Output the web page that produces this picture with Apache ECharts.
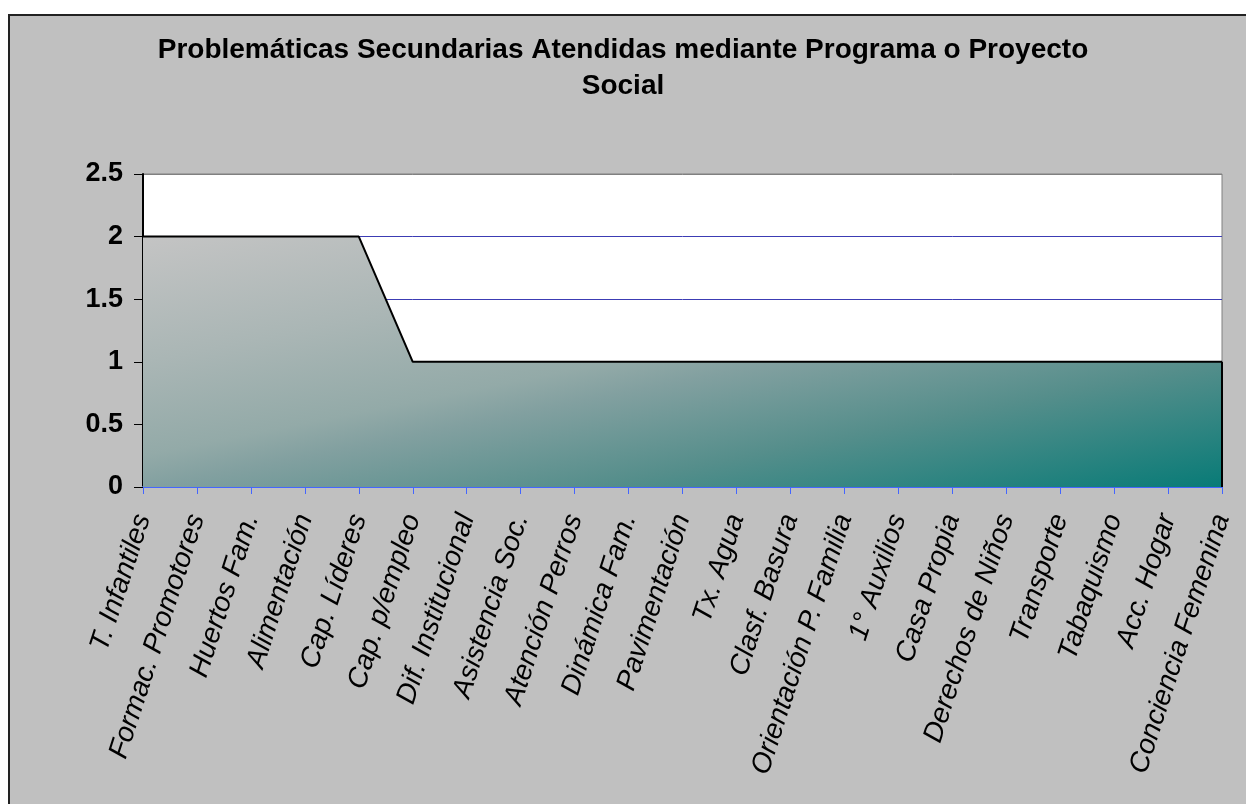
<!DOCTYPE html>
<html>
<head>
<meta charset="utf-8">
<script src="https://cdn.jsdelivr.net/npm/echarts@6/dist/echarts.min.js"></script>
<style>
  html, body { margin: 0; padding: 0; background: #fff; }
  #frame {
    position: absolute; left: 8px; top: 14px; width: 1250px; height: 800px;
    background: #c0c0c0; border-left: 2px solid #222; border-top: 2px solid #222;
  }
  #chart { position: absolute; left: 0; top: 0; width: 1246px; height: 804px; }
</style>
</head>
<body>
<div id="frame"></div>
<div id="chart"></div>
<script>
// categorias del eje X
var categories = ['T. Infantiles', 'Formac. Promotores', 'Huertos Fam.', 'Alimentación', 'Cap. Líderes',
  'Cap. p/empleo', 'Dif. Institucional', 'Asistencia Soc.', 'Atención Perros', 'Dinámica Fam.',
  'Pavimentación', 'Tx. Agua', 'Clasf. Basura', 'Orientación P. Familia', '1° Auxilios',
  'Casa Propia', 'Derechos de Niños', 'Transporte', 'Tabaquismo', 'Acc. Hogar', 'Conciencia Femenina']
// valores de la serie
var values = [2, 2, 2, 2, 2, 1, 1, 1, 1, 1, 1, 1, 1, 1, 1, 1, 1, 1, 1, 1, 1]
var yTicks = [0, 0.5, 1, 1.5, 2, 2.5]

var chart = echarts.init(document.getElementById('chart'))
var font = '"Liberation Sans", Arial, sans-serif'
var lastCat = categories[categories.length - 1]
var lastVal = values[values.length - 1]

chart.setOption({
  animation: false,
  backgroundColor: 'transparent',
  title: {
    text: 'Problemáticas Secundarias Atendidas mediante Programa o Proyecto\nSocial',
    left: 'center',
    top: 27,
    textStyle: {
      fontFamily: font,
      fontWeight: 'bold',
      fontSize: 28,
      lineHeight: 36,
      color: '#000'
    }
  },
  // area de trazado
  grid: {
    left: 143,
    right: 24,
    top: 174,
    bottom: 317,
    show: true,
    backgroundColor: '#fff',
    borderColor: '#808080',
    borderWidth: 1
  },
  xAxis: {
    type: 'category',
    data: categories,
    boundaryGap: false,
    axisLine: { lineStyle: { color: '#4466ff', width: 2 } },
    axisTick: { show: true, length: 7, lineStyle: { color: '#4466ff', width: 1 } },
    axisLabel: {
      rotate: 72,
      interval: 0,
      margin: 28,
      fontFamily: font,
      fontStyle: 'italic',
      fontSize: 28,
      color: '#000'
    },
    splitLine: { show: false }
  },
  yAxis: {
    type: 'value',
    min: yTicks[0],
    max: yTicks[yTicks.length - 1],
    interval: 0.5,
    axisLine: { show: true, lineStyle: { color: '#000', width: 2 } },
    axisTick: { show: true, length: 9, lineStyle: { color: '#000', width: 1 } },
    axisLabel: {
      margin: 20,
      fontFamily: font,
      fontWeight: 'bold',
      fontSize: 27,
      color: '#000'
    },
    splitLine: {
      show: true,
      lineStyle: {
        color: ['transparent', '#3c3cb4', '#3c3cb4', '#3c3cb4', '#3c3cb4', '#808080'],
        width: 1
      }
    }
  },
  series: [
    {
      type: 'line',
      data: values,
      symbol: 'none',
      lineStyle: { color: '#000', width: 2 },
      areaStyle: {
        opacity: 1,
        // degradado diagonal gris -> verde azulado
        color: new echarts.graphic.LinearGradient(0, 0, 0.083, 1.79, [
          { offset: 0, color: '#c4c4c4' },
          { offset: 0.27, color: '#aab6b5' },
          { offset: 0.47, color: '#93aaa8' },
          { offset: 0.54, color: '#82a0a0' },
          { offset: 0.73, color: '#558e8b' },
          { offset: 1, color: '#087b77' }
        ])
      },
      // borde derecho del area
      markLine: {
        silent: true,
        symbol: 'none',
        label: { show: false },
        lineStyle: { color: '#000', width: 2, type: 'solid' },
        data: [[{ coord: [lastCat, 0] }, { coord: [lastCat, lastVal] }]]
      }
    }
  ]
})
</script>
</body>
</html>
